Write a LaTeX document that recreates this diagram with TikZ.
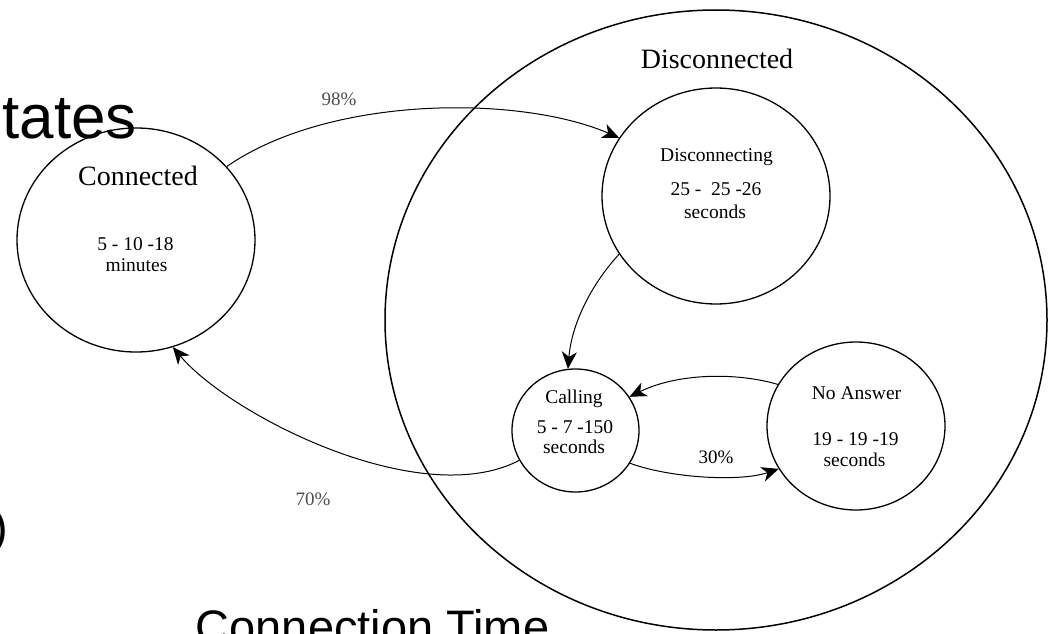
\documentclass[tikz,border=0pt]{standalone}
\usepackage{fontspec}
\setmainfont{Liberation Serif}
\newfontfamily\arialf{Liberation Sans}
\usetikzlibrary{shapes.geometric,arrows.meta}
\begin{document}
\begin{tikzpicture}[x=1pt,y=-1pt,
  oval/.style={draw,ellipse,line width=1.3pt,inner sep=0pt},
  lbl/.style={inner sep=0pt,anchor=base,font=\fontsize{19.5}{20}\selectfont},
  ttl/.style={inner sep=0pt,anchor=base,font=\fontsize{28}{30}\selectfont},
  pct/.style={inner sep=0pt,anchor=base,font=\fontsize{19}{20}\selectfont},
  big/.style={inner sep=0pt,font=\arialf\fontsize{62}{64}\selectfont},
  body/.style={inner sep=0pt,font=\arialf\fontsize{47}{50}\selectfont},
  arr/.style={line width=1pt,-{Stealth[length=17pt,width=15pt,inset=5pt]}}]
\useasboundingbox (0,0) rectangle (1050,634);
\clip (0,0) rectangle (1050,634);

% slide text fragments
\node[big,anchor=base east] (title) at (137,139) {States};
\node[body,anchor=east] (paren) at (8,531) {)};
\node[body,anchor=base west] (ctime) at (195.5,643) {Connection Time};

% states
\node[oval,line width=1.5pt,minimum width=662pt,minimum height=620pt] (discd) at (716,320) {};
\node[oval,minimum width=238pt,minimum height=224pt] (conn) at (136,240) {};
\node[oval,minimum width=228pt,minimum height=216pt] (disc) at (716,196) {};
\node[oval,minimum width=127pt,minimum height=123pt] (call) at (575.5,430.5) {};
\node[oval,minimum width=178pt,minimum height=168pt] (noans) at (856,426) {};

% texts
\node[ttl] (tdiscd) at (717,69) {Disconnected};
\node[ttl] (tconn) at (138,185) {Connected};
\node[lbl] (tconn1) at (135.5,250) {5 - 10 -18};
\node[lbl] (tconn2) at (136.5,271) {minutes};
\node[lbl] (tdisc) at (716.5,161) {Disconnecting};
\node[lbl] (tdisc1) at (716,195.5) {25 - \ 25 -26};
\node[lbl] (tdisc2) at (715,218) {seconds};
\node[lbl] (tcall) at (574,403) {Calling};
\node[lbl] (tcall1) at (575,433) {5 - 7 -150};
\node[lbl] (tcall2) at (574,453) {seconds};
\node[lbl] (tna) at (856.5,399) {No Answer};
\node[lbl] (tna1) at (855.5,445.5) {19 - 19 -19};
\node[lbl] (tna2) at (854.5,466) {seconds};

% transitions
\draw[arr] (conn.39) .. controls (330,95) and (520,95) .. (disc.149);
\draw[arr] (disc.211) .. controls (595,280) and (572,320) .. (call.97);
\draw[arr] (noans.152) .. controls (740,373) and (680,372) .. (call.32);
\draw[arr] (call.-31) .. controls (670,478) and (740,482) .. (noans.209);
\draw[arr] (call.208) .. controls (420,512) and (230,415) .. (conn.289);

\node[pct,text=black!70] (p98) at (339,105) {98\%};
\node[pct,text=black!70] (p70) at (313,505) {70\%};
\node[pct] (p30) at (716,463) {30\%};
\end{tikzpicture}
\end{document}
